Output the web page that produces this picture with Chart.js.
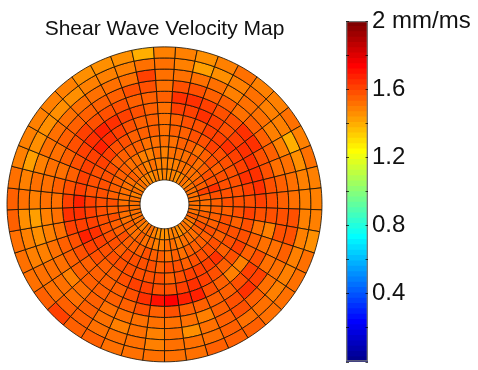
<!DOCTYPE html>
<html>
<head>
<meta charset="utf-8">
<title>Shear Wave Velocity Map</title>
<script src="https://cdn.jsdelivr.net/npm/chart.js@4/dist/chart.umd.min.js"></script>
<style>
  html, body { margin: 0; padding: 0; background: #fff; overflow: hidden; }
  #map { position: absolute; left: 0; top: 0; }
  #bar { position: absolute; left: 330px; top: 0; }
</style>
</head>
<body>
<div id="map" style="width:330px;height:370px"><canvas id="mapChart"></canvas></div>
<div id="bar" style="width:148px;height:370px"><canvas id="barChart"></canvas></div>
<script>
// velocity per cell, mm/ms. 45 sectors clockwise from the top, ring0 = outer edge
const ring0 = [1.47,1.44,1.47,1.51,1.49,1.49,1.51,1.49,1.51,1.49,1.48,1.47,1.45,1.51,1.51,1.51,1.52,1.54,1.55,1.54,1.53,1.53,1.52,1.52,1.53,1.54,1.54,1.60,1.56,1.51,1.50,1.51,1.54,1.55,1.51,1.49,1.47,1.49,1.47,1.47,1.45,1.45,1.44,1.40,1.48];
const ring1 = [1.47,1.43,1.45,1.49,1.51,1.49,1.48,1.40,1.45,1.47,1.49,1.49,1.47,1.48,1.48,1.49,1.52,1.53,1.55,1.52,1.52,1.51,1.49,1.51,1.52,1.53,1.55,1.56,1.53,1.52,1.47,1.47,1.45,1.51,1.47,1.42,1.45,1.44,1.45,1.45,1.47,1.49,1.49,1.51,1.52];
const ring2 = [1.53,1.52,1.51,1.49,1.53,1.51,1.47,1.49,1.51,1.52,1.53,1.57,1.59,1.55,1.51,1.51,1.55,1.57,1.56,1.53,1.46,1.52,1.49,1.51,1.49,1.53,1.55,1.53,1.53,1.52,1.48,1.45,1.43,1.49,1.51,1.47,1.51,1.51,1.52,1.51,1.51,1.52,1.53,1.62,1.53];
const ring3 = [1.57,1.59,1.56,1.56,1.53,1.55,1.56,1.55,1.53,1.55,1.56,1.59,1.59,1.53,1.52,1.62,1.64,1.57,1.55,1.47,1.52,1.51,1.53,1.52,1.51,1.52,1.55,1.53,1.49,1.52,1.51,1.49,1.49,1.51,1.52,1.51,1.52,1.55,1.56,1.55,1.55,1.56,1.57,1.59,1.53];
const ring4 = [1.64,1.64,1.62,1.57,1.59,1.63,1.63,1.57,1.57,1.57,1.57,1.57,1.47,1.51,1.57,1.60,1.59,1.56,1.55,1.55,1.56,1.59,1.56,1.57,1.56,1.56,1.55,1.55,1.55,1.56,1.55,1.52,1.53,1.53,1.55,1.53,1.55,1.57,1.60,1.57,1.59,1.57,1.56,1.55,1.55];
const ring5 = [1.62,1.62,1.63,1.60,1.59,1.62,1.64,1.63,1.64,1.64,1.60,1.59,1.52,1.56,1.56,1.49,1.49,1.55,1.59,1.68,1.68,1.74,1.70,1.63,1.57,1.56,1.56,1.56,1.55,1.57,1.59,1.62,1.64,1.62,1.59,1.56,1.59,1.62,1.65,1.66,1.63,1.60,1.57,1.55,1.53];
const ring6 = [1.56,1.59,1.59,1.60,1.60,1.63,1.62,1.62,1.63,1.62,1.59,1.60,1.57,1.57,1.62,1.59,1.56,1.57,1.62,1.64,1.62,1.59,1.59,1.60,1.60,1.57,1.56,1.55,1.57,1.62,1.66,1.62,1.63,1.66,1.62,1.62,1.60,1.62,1.66,1.64,1.60,1.59,1.56,1.55,1.53];
const ring7 = [1.55,1.56,1.57,1.57,1.60,1.59,1.57,1.59,1.59,1.57,1.59,1.57,1.56,1.59,1.57,1.56,1.63,1.60,1.60,1.60,1.57,1.56,1.57,1.59,1.57,1.59,1.57,1.57,1.59,1.62,1.63,1.60,1.62,1.62,1.59,1.59,1.59,1.62,1.60,1.59,1.57,1.56,1.55,1.55,1.52];
const ring8 = [1.53,1.55,1.56,1.53,1.56,1.57,1.56,1.59,1.57,1.57,1.57,1.56,1.59,1.57,1.55,1.59,1.57,1.59,1.57,1.56,1.59,1.57,1.56,1.57,1.57,1.59,1.57,1.56,1.59,1.59,1.57,1.59,1.59,1.59,1.57,1.57,1.59,1.57,1.56,1.56,1.55,1.56,1.53,1.52,1.51];
const ring9 = [1.51,1.52,1.53,1.55,1.53,1.56,1.57,1.59,1.63,1.57,1.55,1.56,1.56,1.55,1.57,1.56,1.55,1.56,1.55,1.53,1.55,1.53,1.55,1.56,1.57,1.56,1.55,1.56,1.57,1.55,1.56,1.57,1.56,1.57,1.56,1.55,1.55,1.56,1.55,1.53,1.50,1.47,1.49,1.51,1.49];
const ring10 = [1.47,1.49,1.52,1.51,1.53,1.51,1.55,1.56,1.60,1.55,1.53,1.53,1.55,1.56,1.59,1.55,1.52,1.53,1.51,1.49,1.51,1.52,1.49,1.47,1.51,1.53,1.55,1.52,1.53,1.55,1.53,1.52,1.55,1.52,1.53,1.52,1.53,1.52,1.55,1.51,1.52,1.49,1.51,1.47,1.47];
const ring11 = [1.45,1.47,1.45,1.49,1.51,1.47,1.51,1.53,1.52,1.51,1.52,1.51,1.53,1.56,1.52,1.49,1.51,1.47,1.45,1.47,1.47,1.45,1.44,1.45,1.47,1.51,1.52,1.49,1.51,1.51,1.52,1.51,1.53,1.51,1.52,1.49,1.51,1.47,1.51,1.49,1.47,1.45,1.49,1.45,1.47];
const rings = [ring0, ring1, ring2, ring3, ring4, ring5, ring6, ring7, ring8, ring9, ring10, ring11];

// top of each colour bar step
const barLevels = [0.031,0.063,0.094,0.125,0.156,0.188,0.219,0.25,0.281,0.313,0.344,0.375,0.406,0.438,0.469,0.5,
  0.531,0.563,0.594,0.625,0.656,0.688,0.719,0.75,0.781,0.813,0.844,0.875,0.906,0.938,0.969,1,
  1.031,1.063,1.094,1.125,1.156,1.188,1.219,1.25,1.281,1.313,1.344,1.375,1.406,1.438,1.469,1.5,
  1.531,1.563,1.594,1.625,1.656,1.688,1.719,1.75,1.781,1.813,1.844,1.875,1.906,1.938,1.969,2];
const tickLabels = { '0.4': '0.4', '0.8': '0.8', '1.2': '1.2', '1.6': '1.6', '2': '2 mm/ms' };

const fontFamily = '"Liberation Sans", Arial, sans-serif';

// matlab jet, 64 levels over 0..2
function jetColor(v) {
  const i = Math.min(63, Math.floor(v / 2 * 64));
  const x = (i + 1) / 64;
  const ch = c => Math.round(255 * Math.max(0, Math.min(1, c)));
  const r = ch(Math.min(4 * x - 1.5, -4 * x + 4.5));
  const g = ch(Math.min(4 * x - 0.5, -4 * x + 3.5));
  const b = ch(Math.min(4 * x + 0.5, -4 * x + 2.5));
  return `rgb(${r},${g},${b})`;
}

new Chart(document.getElementById('mapChart'), {
  type: 'doughnut',
  data: {
    datasets: rings.map(ring => ({
      data: ring.map(v => ({ speed: v, span: 1 })),
      parsing: { key: 'span' },
      backgroundColor: ring.map(jetColor),
      borderColor: 'rgba(20,15,5,0.8)',
      borderWidth: 1
    }))
  },
  options: {
    responsive: true,
    maintainAspectRatio: false,
    animation: false,
    rotation: 4,
    cutout: '15.5%',
    layout: { padding: { left: 6.5, right: 7.5, top: 0, bottom: 7.5 } },
    events: [],
    plugins: {
      legend: { display: false },
      tooltip: { enabled: false },
      title: {
        display: true,
        text: 'Shear Wave Velocity Map',
        color: '#111',
        font: { family: fontFamily, size: 21, weight: 'normal', lineHeight: 1.2 },
        padding: { top: 16.5, bottom: 4.5 }
      }
    }
  }
});

const barDatasets = [{
  data: [[0, 2]],
  backgroundColor: 'transparent',
  borderColor: '#777',
  borderWidth: 1,
  borderSkipped: false
}];
barLevels.forEach(top => {
  barDatasets.push({ data: [[0, top]], backgroundColor: jetColor(top - 0.01), borderWidth: 0 });
});

new Chart(document.getElementById('barChart'), {
  type: 'bar',
  data: { labels: ['mm/ms'], datasets: barDatasets },
  options: {
    responsive: true,
    maintainAspectRatio: false,
    animation: false,
    events: [],
    layout: { padding: { left: 16, right: 0, top: 21, bottom: 8 } },
    datasets: { bar: { grouped: false, barPercentage: 1, categoryPercentage: 1 } },
    plugins: { legend: { display: false }, tooltip: { enabled: false } },
    scales: {
      x: { display: false },
      y: {
        position: 'right',
        min: 0,
        max: 2,
        afterFit: scale => {
          scale.width = 110;
          scale.paddingTop = 0;
          scale.paddingBottom = 0;
        },
        border: { display: false, dash: [3, 16.5, 3] },
        grid: { color: 'rgba(0,0,0,0.7)', drawTicks: false, z: 1 },
        ticks: {
          stepSize: 0.2,
          padding: 4,
          color: '#111',
          autoSkip: false,
          maxRotation: 0,
          font: { family: fontFamily, size: 24 },
          callback: v => tickLabels[String(Math.round(v * 10) / 10)] || ''
        }
      }
    }
  }
});
</script>
</body>
</html>
